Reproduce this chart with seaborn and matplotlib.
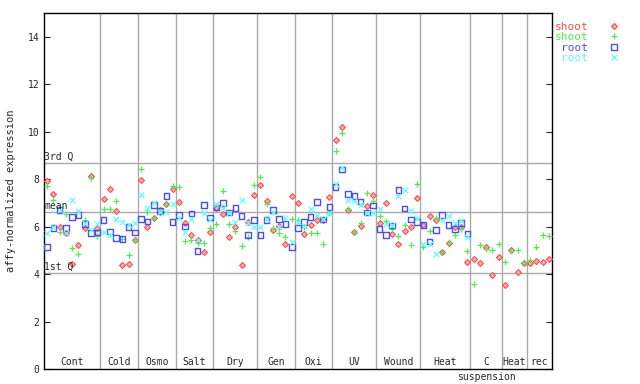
import numpy as np
import pandas as pd
import matplotlib
matplotlib.use("Agg")
import matplotlib.pyplot as plt
import seaborn as sns
from matplotlib.lines import Line2D

# categories and number of samples in each
categories = ["Cont", "Cold", "Osmo", "Salt", "Dry", "Gen", "Oxi", "UV",
              "Wound", "Heat", "C", "Heat", "rec"]
counts = [9, 6, 6, 6, 7, 6, 6, 7, 7, 8, 5, 4, 4]

# reference lines
q3_value = 8.69
mean_value = 6.62
q1_value = 4.05

# shoot (red)
shoot_red = [7.93, 7.38, 6.00, 5.75, 4.43, 5.22, 5.93, 8.12, 5.95,
             7.18, 7.58, 6.66, 4.39, 4.43, 5.42,
             7.97, 6.00, 6.38, 6.70, 6.94, 7.58,
             7.04, 6.15, 5.64, 5.43, 4.92, 5.76,
             6.80, 6.54, 5.55, 6.00, 4.39, 6.20, 7.33,
             7.75, 7.09, 5.86, 6.04, 5.26, 7.28,
             6.99, 5.68, 6.06, 6.29, 6.29, 7.24,
             9.65, 10.20, 6.71, 5.79, 6.03, 6.88, 7.34,
             6.14, 6.99, 5.68, 5.26, 5.82, 5.97, 7.20,
             6.06, 6.46, 6.29, 4.92, 5.30, 6.00, 6.00, 4.50,
             4.62, 4.46, 5.14, 3.95, 4.72,
             3.52, 5.00, 4.08, 4.46,
             4.46, 4.55, 4.50, 4.62]
# shoot (green)
shoot_green = [7.69, 7.12, 5.77, 6.54, 5.10, 4.83, 6.26, 8.04, 5.62,
               6.75, 6.75, 7.07, 5.48, 4.79, 5.42,
               8.42, 6.60, 6.38, 6.56, 6.94, 7.72,
               7.66, 5.38, 5.43, 5.30, 5.30, 5.93,
               6.10, 7.50, 6.10, 5.82, 5.18, 5.55, 7.75,
               8.08, 6.94, 5.95, 5.72, 5.58, 6.31,
               6.29, 6.00, 5.72, 5.72, 5.26, 6.57,
               9.18, 9.94, 6.75, 5.76, 6.14, 7.41, 7.09,
               6.46, 6.22, 5.90, 5.61, 6.06, 5.22, 7.81,
               5.16, 5.82, 6.35, 4.92, 5.37, 5.65, 5.89, 4.98,
               3.57, 5.22, 5.05, 5.00, 5.26,
               4.50, 4.98, 5.00, 4.50,
               4.58, 5.14, 5.63, 5.60]
# root (blue)
root_blue = [5.13, 5.93, 6.70, 5.93, 6.40, 6.48, 6.10, 5.72, 5.76,
             6.27, 5.80, 5.51, 5.48, 5.99, 5.76,
             6.31, 6.21, 6.90, 6.66, 7.28, 6.20,
             6.48, 6.00, 6.56, 4.97, 6.90, 6.38,
             6.80, 6.99, 6.59, 6.79, 6.45, 5.64, 6.27,
             5.64, 6.27, 6.70, 6.31, 6.10, 5.13,
             5.93, 6.20, 6.40, 7.03, 6.29, 6.82,
             7.67, 8.40, 7.38, 7.30, 7.06, 6.60, 6.88,
             5.89, 5.65, 6.05, 7.55, 6.77, 6.29, 6.20,
             6.06, 5.37, 5.86, 6.50, 6.07, 5.89, 6.16, 5.70]
# root (cyan)
root_cyan = [5.72, 6.00, 6.70, 5.72, 7.12, 6.66, 6.15, 5.85, 6.10,
             5.78, 5.64, 6.31, 6.20, 6.07, 6.15,
             7.34, 6.77, 7.00, 6.63, 6.63, 6.94,
             6.38, 5.79, 6.30, 5.45, 6.56, 6.27,
             6.96, 6.80, 6.59, 6.20, 7.13, 6.15, 6.00,
             5.98, 6.31, 6.60, 6.00, 6.38, 5.34,
             6.20, 6.03, 6.73, 6.50, 6.30, 6.57,
             7.81, 8.47, 7.10, 7.09, 6.90, 6.57, 6.57,
             6.73, 6.10, 6.05, 7.31, 7.55, 6.66, 6.37,
             5.26, 5.26, 4.84, 6.29, 6.44, 6.14, 6.24, 5.55]

sns.set_style("ticks")
plt.rcParams["font.family"] = ["DejaVu Sans Mono"]

fig = plt.figure(figsize=(6.4, 3.84), dpi=100)
ax = fig.add_axes([44 / 640, 15 / 384, 508 / 640, 356 / 384])

n_total = sum(counts)
red_c, green_c, blue_c, cyan_c = "#ff4c4c", "#4cf04c", "#4c4cff", "#5cffff"

series = [
    ("shoot", shoot_red, red_c, dict(marker="D", s=9, facecolor="#ffb0b0", edgecolor=red_c, linewidth=0.8)),
    ("shoot", shoot_green, green_c, dict(marker="+", s=22, color=green_c, linewidth=0.9)),
    ("root", root_blue, blue_c, dict(marker="s", s=16, facecolor="none", edgecolor=blue_c, linewidth=1.0)),
    ("root", root_cyan, cyan_c, dict(marker="x", s=16, color=cyan_c, linewidth=0.9)),
]

# grid lines between categories and reference lines
bounds = np.cumsum(counts)[:-1] - 0.5
for b in bounds:
    ax.axvline(b, color="#aaaaaa", lw=1, zorder=0)
for v in (q3_value, mean_value, q1_value):
    ax.axhline(v, color="#aaaaaa", lw=1, zorder=0)

for name, vals, col, kw in series:
    df = pd.DataFrame({"x": np.arange(len(vals)), "y": vals})
    sns.scatterplot(data=df, x="x", y="y", ax=ax, zorder=3, **kw)

# quantile labels
for lab, v in (("3rd Q", q3_value), ("mean", mean_value), ("1st Q", q1_value)):
    ax.text(-0.45, v + 0.05, lab, fontsize=7, va="bottom", ha="left", zorder=4)

# category labels
starts = np.concatenate([[0], np.cumsum(counts)[:-1]])
for cat, st, c in zip(categories, starts, counts):
    xc = st + c / 2 - 0.5
    ax.text(xc, 0.3, cat, fontsize=7, ha="center", va="center")
c_idx = categories.index("C")
ax.text(starts[c_idx] + counts[c_idx] / 2 - 0.5, -0.34, "suspension", fontsize=7,
        ha="center", va="center", clip_on=False)

ax.set_xlim(-0.5, n_total - 0.5)
ax.set_ylim(0, 15)
ax.set_xticks([])
ax.set_yticks(range(0, 15, 2))
ax.tick_params(axis="y", direction="in", length=4, labelsize=7, right=True, left=True, width=0.8)
ax.set_xlabel("")
ax.set_ylabel("affy-normalized expression", fontsize=7.5, labelpad=8)
for sp in ax.spines.values():
    sp.set_color("black")
    sp.set_linewidth(1)

# legend outside on the right
handles = [
    Line2D([], [], ls="none", marker="D", ms=3, mfc="#ffb0b0", mec=red_c, mew=0.8),
    Line2D([], [], ls="none", marker="+", ms=5, color=green_c, mew=0.9),
    Line2D([], [], ls="none", marker="s", ms=4, mfc="none", mec=blue_c, mew=1.0),
    Line2D([], [], ls="none", marker="x", ms=4, color=cyan_c, mew=0.9),
]
labels = [s[0] for s in series]
leg = fig.legend(handles, labels, loc="upper left", bbox_to_anchor=(549 / 640, 1 - 16 / 384),
                 frameon=False, markerfirst=False, fontsize=8, handletextpad=1.8,
                 labelspacing=0.05, borderpad=0, handlelength=1,
                 labelcolor=[red_c, green_c, blue_c, cyan_c])

fig.savefig("out.png", dpi=100)
